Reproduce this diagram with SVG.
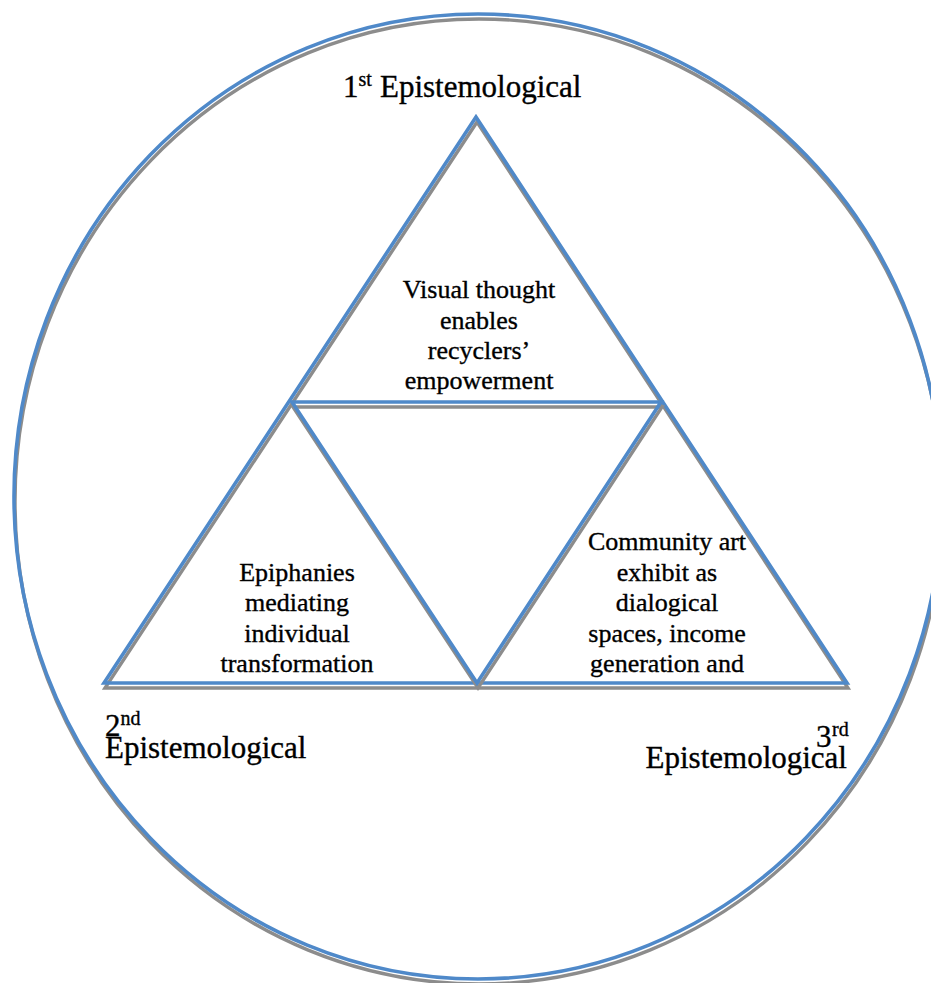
<svg xmlns="http://www.w3.org/2000/svg" xmlns:xlink="http://www.w3.org/1999/xlink" width="931" height="983" viewBox="0 0 931 983">
  <style>
    .shadow { fill: none; stroke: #8C8C8C; stroke-width: 3.4; stroke-linejoin: miter; }
    .edge { fill: none; stroke: #4F89C9; stroke-width: 3.6; stroke-linejoin: miter; }
    text { font-family: "Liberation Serif", "Times New Roman", Times, serif; fill: #000000; stroke: #000000; stroke-width: 0.35; }
    .body { font-size: 26px; text-anchor: middle; }
    .big { font-size: 31px; }
    .sup { font-size: 20px; }
  </style>
  <defs>
    <ellipse id="ring" cx="478" cy="496.5" rx="464" ry="482.5"/>
    <polygon id="outer-tri" points="476,117 104,683 847,683"/>
    <polygon id="inner-tri" points="292,402 661,402 477,683"/>
  </defs>

  <rect width="931" height="983" fill="#FFFFFF"/>

  <!-- enclosing circle -->
  <g id="circle">
    <use xlink:href="#ring" href="#ring" class="shadow" transform="translate(1,5)"/>
    <use xlink:href="#ring" href="#ring" class="edge"/>
  </g>

  <!-- triangle frame: outer triangle and inverted middle triangle -->
  <g id="connectors">
    <use xlink:href="#outer-tri" href="#outer-tri" class="shadow" transform="translate(1,5)"/>
    <use xlink:href="#outer-tri" href="#outer-tri" class="edge"/>
    <use xlink:href="#inner-tri" href="#inner-tri" class="shadow" transform="translate(1,5)"/>
    <use xlink:href="#inner-tri" href="#inner-tri" class="edge"/>
  </g>

  <!-- top triangle -->
  <g id="node-visual-thought">
    <text class="body" x="479" y="298">Visual thought</text>
    <text class="body" x="479" y="328.5">enables</text>
    <text class="body" x="479" y="359">recyclers’</text>
    <text class="body" x="479" y="389">empowerment</text>
  </g>

  <!-- bottom-left triangle -->
  <g id="node-epiphanies">
    <text class="body" x="297" y="580.5">Epiphanies</text>
    <text class="body" x="297" y="611">mediating</text>
    <text class="body" x="297" y="641.5">individual</text>
    <text class="body" x="297" y="672">transformation</text>
  </g>

  <!-- bottom-right triangle -->
  <g id="node-community-art">
    <text class="body" x="667" y="550">Community art</text>
    <text class="body" x="667" y="580.5">exhibit as</text>
    <text class="body" x="667" y="611">dialogical</text>
    <text class="body" x="667" y="641.5">spaces, income</text>
    <text class="body" x="667" y="672">generation and</text>
  </g>

  <!-- vertex labels -->
  <g id="label-first">
    <text class="big" x="343" y="97">1</text>
    <text class="sup" x="358.5" y="86">st</text>
    <text class="big" x="380" y="97">Epistemological</text>
  </g>

  <g id="label-second">
    <text class="big" x="105" y="736">2</text>
    <text class="sup" x="120.5" y="725">nd</text>
    <text class="big" x="105" y="758">Epistemological</text>
  </g>

  <g id="label-third">
    <text class="big" x="816" y="747">3</text>
    <text class="sup" x="832" y="736">rd</text>
    <text class="big" x="847" y="768" text-anchor="end">Epistemological</text>
  </g>
</svg>
